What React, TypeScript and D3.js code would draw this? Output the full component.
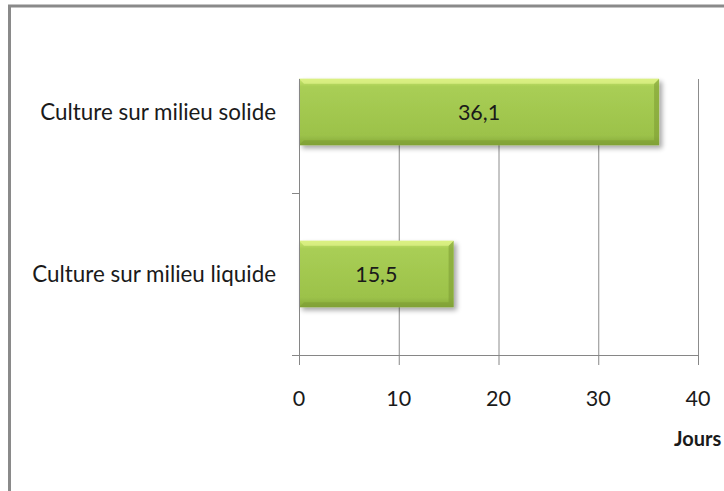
import React, { useRef, useEffect } from 'react'
import * as d3 from 'd3'

const categories = ['Culture sur milieu solide', 'Culture sur milieu liquide']
const values = [36.1, 15.5]
const xTicks = [0, 10, 20, 30, 40]
const xTitle = 'Jours'

const W = 724
const H = 491

const App = () => {
    const ref = useRef<SVGSVGElement>(null)

    useEffect(() => {
        if (!ref.current) return
        const svg = d3.select(ref.current)
        svg.selectAll('*').remove()

        const left = 299, right = 698, top = 31, bottom = 355, gridTop = 79
        const font = 'Lato, "Open Sans", sans-serif'

        const x = d3.scaleLinear().domain([0, 40]).range([left, right])
        const y = d3.scaleBand().domain(categories).range([top, bottom]).padding(0)
        const barH = y.bandwidth() * 0.41

        const defs = svg.append('defs')
        const grad = defs.append('linearGradient')
            .attr('id', 'barGrad').attr('x1', 0).attr('y1', 0).attr('x2', 0).attr('y2', 1)
        grad.append('stop').attr('offset', '0%').attr('stop-color', '#c9e56e')
        grad.append('stop').attr('offset', '12%').attr('stop-color', '#a9ce55')
        grad.append('stop').attr('offset', '85%').attr('stop-color', '#9cc24a')
        grad.append('stop').attr('offset', '100%').attr('stop-color', '#86a93a')
        const shadow = defs.append('filter').attr('id', 'shadow')
            .attr('x', '-10%').attr('y', '-20%').attr('width', '130%').attr('height', '160%')
        shadow.append('feGaussianBlur').attr('in', 'SourceAlpha').attr('stdDeviation', 2.5)
        shadow.append('feOffset').attr('dx', 3).attr('dy', 3).attr('result', 'b')
        shadow.append('feComponentTransfer').append('feFuncA').attr('type', 'linear').attr('slope', 0.35)
        const merge = shadow.append('feMerge')
        merge.append('feMergeNode')
        merge.append('feMergeNode').attr('in', 'SourceGraphic')

        // outer frame
        svg.append('rect').attr('x', 9.5).attr('y', 6).attr('width', W + 10).attr('height', H + 10)
            .attr('fill', 'white').attr('stroke', '#8a8a8a').attr('stroke-width', 3)

        // vertical gridlines
        svg.append('g').selectAll('line')
            .data(xTicks.slice(1))
            .join('line')
            .attr('x1', d => x(d) + 0.5).attr('x2', d => x(d) + 0.5)
            .attr('y1', gridTop).attr('y2', bottom)
            .attr('stroke', '#8c8c8c').attr('stroke-width', 1)

        // bars
        const bars = svg.append('g').selectAll('g')
            .data(categories)
            .join('g')
            .attr('filter', 'url(#shadow)')
        bars.append('rect')
            .attr('x', x(0)).attr('y', d => y(d)! + (y.bandwidth() - barH) / 2)
            .attr('width', (_, i) => x(values[i]) - x(0)).attr('height', barH)
            .attr('fill', 'url(#barGrad)')
        // bevel: light top, dark bottom and right
        bars.append('path')
            .attr('d', (d, i) => {
                const x0 = x(0), x1 = x(values[i]), y0 = y(d)! + (y.bandwidth() - barH) / 2, y1 = y0 + barH, b = 5
                return `M${x0},${y1}L${x1},${y1}L${x1},${y0}L${x1 - b},${y0 + b}L${x1 - b},${y1 - b}L${x0 + b},${y1 - b}Z`
            })
            .attr('fill', '#7b9b33').attr('opacity', 0.55)
        bars.append('path')
            .attr('d', (d, i) => {
                const x0 = x(0), x1 = x(values[i]), y0 = y(d)! + (y.bandwidth() - barH) / 2, b = 5
                return `M${x0},${y0}L${x1},${y0}L${x1 - b},${y0 + b}L${x0 + b},${y0 + b}Z`
            })
            .attr('fill', '#e2f58c').attr('opacity', 0.7)

        // value labels
        svg.append('g').selectAll('text')
            .data(categories)
            .join('text')
            .attr('x', (_, i) => (x(0) + x(values[i])) / 2)
            .attr('y', d => y(d)! + y.bandwidth() / 2)
            .attr('dy', '0.35em')
            .attr('text-anchor', 'middle')
            .attr('font-family', font).attr('font-size', 21.5).attr('fill', '#1a1a1a')
            .text((_, i) => String(values[i]).replace('.', ','))

        // y axis
        const axisColor = '#868686'
        svg.append('line').attr('x1', left + 0.5).attr('x2', left + 0.5)
            .attr('y1', gridTop).attr('y2', bottom + 10).attr('stroke', axisColor)
        svg.append('g').selectAll('line')
            .data([top + y.bandwidth(), bottom])
            .join('line')
            .attr('x1', left - 7).attr('x2', left)
            .attr('y1', d => d + 0.5).attr('y2', d => d + 0.5)
            .attr('stroke', axisColor)
        svg.append('g').selectAll('text')
            .data(categories)
            .join('text')
            .attr('x', 276).attr('y', d => y(d)! + y.bandwidth() / 2)
            .attr('dy', '0.35em').attr('text-anchor', 'end')
            .attr('font-family', font).attr('font-size', 22.4).attr('fill', '#1a1a1a')
            .text(d => d)

        // x axis
        svg.append('line').attr('x1', left).attr('x2', right + 0.5)
            .attr('y1', bottom + 0.5).attr('y2', bottom + 0.5).attr('stroke', axisColor)
        svg.append('g').selectAll('line')
            .data(xTicks)
            .join('line')
            .attr('x1', d => x(d) + 0.5).attr('x2', d => x(d) + 0.5)
            .attr('y1', bottom).attr('y2', bottom + 10)
            .attr('stroke', axisColor)
        svg.append('g').selectAll('text')
            .data(xTicks)
            .join('text')
            .attr('x', d => x(d)).attr('y', 398)
            .attr('dy', '0.35em').attr('text-anchor', 'middle')
            .attr('font-family', font).attr('font-size', 21.5).attr('fill', '#1a1a1a')
            .text(d => d)
        svg.append('text')
            .attr('x', 674).attr('y', 439).attr('dy', '0.35em')
            .attr('font-family', font).attr('font-size', 20).attr('font-weight', 'bold').attr('fill', '#1a1a1a')
            .text(xTitle)
    }, [])

    return (
        <svg ref={ref} width={W} height={H}
            style={{ position: 'absolute', left: 0, top: 0, background: 'white' }} />
    )
}

export default App
